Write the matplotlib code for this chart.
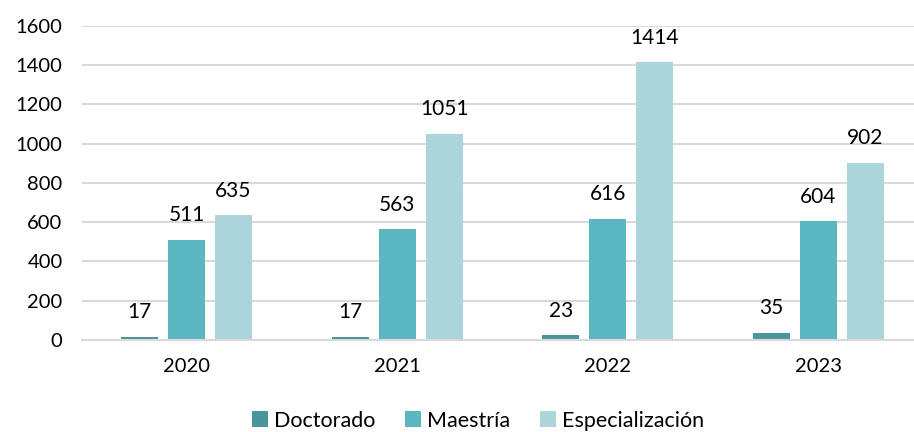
import numpy as np
import matplotlib.pyplot as plt

years = ["2020", "2021", "2022", "2023"]
doctorado = [17, 17, 23, 35]
maestria = [511, 563, 616, 604]
especializacion = [635, 1051, 1414, 902]

series = [
    ("Doctorado", doctorado, "#4a9599"),
    ("Maestría", maestria, "#5bb7c1"),
    ("Especialización", especializacion, "#acd4db"),
]

plt.rcParams['font.family'] = ['Lato', 'DejaVu Sans']

fig = plt.figure(figsize=(9.14, 4.32), dpi=100)
ax = fig.add_axes([0.0897, 0.213, 0.9103, 0.727])

x = np.arange(len(years))
width = 0.176
step = 0.223

for i, (label, values, color) in enumerate(series):
    pos = x + (i - 1) * step
    bars = ax.bar(pos, values, width, color=color, label=label, zorder=2)
    for b, v in zip(bars, values):
        ax.annotate(str(v), (b.get_x() + b.get_width() / 2, v),
                    xytext=(0, 13.5), textcoords="offset points",
                    ha="center", va="baseline", fontsize=15, color="#000000")

ax.set_xlim(-0.496, 3.453)
ax.set_ylim(0, 1600)
ax.set_yticks(np.arange(0, 1601, 200))
ax.set_xticks(x)
ax.set_xticklabels(years)
ax.tick_params(axis="both", length=0, labelsize=14.5, colors="#000000")
ax.tick_params(axis="y", pad=14)
ax.tick_params(axis="x", pad=13)
ax.grid(axis="y", color="#d9d9d9", linewidth=1.5, zorder=0)
ax.set_axisbelow(True)
for side in ["top", "right", "left"]:
    ax.spines[side].set_visible(False)
ax.spines["bottom"].set_color("#d9d9d9")
ax.spines["bottom"].set_linewidth(1.5)

fig.legend(loc="center", bbox_to_anchor=(0.523, 0.026), ncol=3, frameon=False,
           fontsize=15.5, handlelength=0.75, handleheight=0.75, handletextpad=0.25,
           columnspacing=1.4)

fig.savefig("out.png", dpi=100)
